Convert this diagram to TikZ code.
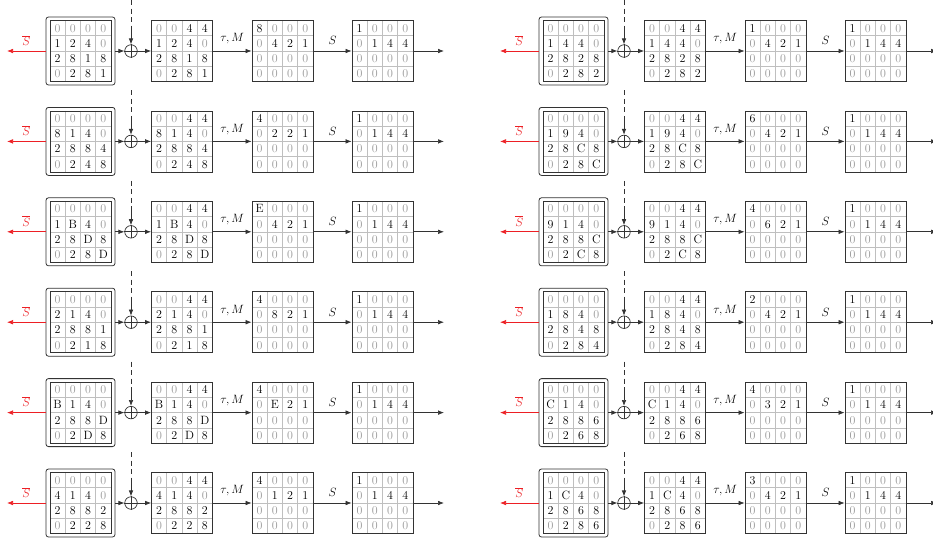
\documentclass[tikz,border=0pt]{standalone}
\usetikzlibrary{arrows.meta}
\definecolor{zerogray}{gray}{0.6}
\definecolor{gridgray}{gray}{0.75}
\definecolor{framec}{gray}{0.2}
\definecolor{sred}{rgb}{0.93,0.12,0.14}
\tikzset{
  matbox/.style={draw=framec, line width=0.8pt, minimum size=61pt, inner sep=0pt},
  outerbox/.style={draw=framec, line width=0.8pt, rounded corners=2.5pt, minimum width=69pt, minimum height=68pt, inner sep=0pt},
  gridline/.style={draw=gridgray, line width=0.6pt},
  cellnum/.style={inner sep=0pt, text height=7.9pt, text depth=0pt, font=\large},
  zeronum/.style={cellnum, text=zerogray},
  arr/.style={draw=framec, line width=0.7pt, -{Latex[length=6pt,width=4.6pt]}},
  redarr/.style={draw=sred, line width=0.7pt, -{Latex[length=6pt,width=4.6pt]}},
  xorop/.style={circle, draw=framec, line width=0.7pt, minimum size=12.5pt, inner sep=0pt},
  dasharr/.style={draw=framec, line width=0.7pt, dash pattern=on 5pt off 3.5pt},
  lbl/.style={text=black, font=\large},
}
\def\zerotxt{0}
\newcommand\drawmat[4]{%
  \foreach \k in {1,2,3}{
    \draw[gridline] (#2-30.5+15.25*\k, #3-30.5) -- (#2-30.5+15.25*\k, #3+30.5);
    \draw[gridline] (#2-30.5, #3-30.5+15.25*\k) -- (#2+30.5, #3-30.5+15.25*\k);
  }
  \foreach \v [count=\i from 0] in {#4}{
    \pgfmathtruncatemacro\mrow{int(\i/4)}
    \pgfmathtruncatemacro\mcol{mod(\i,4)}
    \edef\tmpv{\v}
    \ifx\tmpv\zerotxt
      \node[zeronum] (#1-\i) at (#2-22.875+15.25*\mcol, #3-22.875+15.25*\mrow) {\v};
    \else
      \node[cellnum] (#1-\i) at (#2-22.875+15.25*\mcol, #3-22.875+15.25*\mrow) {\v};
    \fi
  }
  \node[matbox] (#1) at (#2,#3) {};
}
\newcommand\staterow[6]{%
  \node[outerbox] (#1-o) at (#2+80.5,#3) {};
  \drawmat{#1-a}{#2+80.5}{#3}{0,0,0,0,#4}
  \node[xorop] (#1-x) at (#2+131,#3) {};
  \draw[framec, line width=0.7pt] (#1-x.north) -- (#1-x.south) (#1-x.west) -- (#1-x.east);
  \drawmat{#1-b}{#2+182}{#3}{0,0,4,4,#4}
  \drawmat{#1-c}{#2+282.5}{#3}{#5,0,0,0,0,#6,2,1,0,0,0,0,0,0,0,0}
  \drawmat{#1-d}{#2+382.5}{#3}{1,0,0,0,0,1,4,4,0,0,0,0,0,0,0,0}
  \coordinate (#1-top) at (#2+131,#3-51);
  \coordinate (#1-mid) at (#2+131,#3-22);
  \coordinate (#1-in) at (#2+7,#3);
  \coordinate (#1-out) at (#2+444,#3);
  \draw[dasharr] (#1-top) -- (#1-mid);
  \draw[arr] (#1-mid) -- (#1-x.north);
  \draw[arr] (#1-o.east) -- (#1-x.west);
  \draw[arr] (#1-x.east) -- (#1-b.west);
  \draw[arr] (#1-b.east) -- node[lbl, above=3pt] (#1-l1) {$\tau, M$} (#1-c.west);
  \draw[arr] (#1-c.east) -- node[lbl, above=2.5pt] (#1-l2) {$S$} (#1-d.west);
  \draw[arr] (#1-d.east) -- (#1-out);
  \draw[redarr] (#1-o.west) -- node[above=2pt, text=sred, font=\large] (#1-l3) {$\overline{S}$} (#1-in);
}
\begin{document}
\begin{tikzpicture}[x=1pt,y=-1pt]
\path[use as bounding box, fill=white] (0,0) rectangle (933,541);
\staterow{L1}{0}{51}{1,2,4,0,2,8,1,8,0,2,8,1}{8}{4}
\staterow{L2}{0}{141.4}{8,1,4,0,2,8,8,4,0,2,4,8}{4}{2}
\staterow{L3}{0}{231.8}{1,B,4,0,2,8,D,8,0,2,8,D}{E}{4}
\staterow{L4}{0}{322.2}{2,1,4,0,2,8,8,1,0,2,1,8}{4}{8}
\staterow{L5}{0}{412.6}{B,1,4,0,2,8,8,D,0,2,D,8}{4}{E}
\staterow{L6}{0}{503}{4,1,4,0,2,8,8,2,0,2,2,8}{4}{1}
\staterow{R1}{493}{51}{1,4,4,0,2,8,2,8,0,2,8,2}{1}{4}
\staterow{R2}{493}{141.4}{1,9,4,0,2,8,C,8,0,2,8,C}{6}{4}
\staterow{R3}{493}{231.8}{9,1,4,0,2,8,8,C,0,2,C,8}{4}{6}
\staterow{R4}{493}{322.2}{1,8,4,0,2,8,4,8,0,2,8,4}{2}{4}
\staterow{R5}{493}{412.6}{C,1,4,0,2,8,8,6,0,2,6,8}{4}{3}
\staterow{R6}{493}{503}{1,C,4,0,2,8,6,8,0,2,8,6}{3}{4}
\end{tikzpicture}
\end{document}
